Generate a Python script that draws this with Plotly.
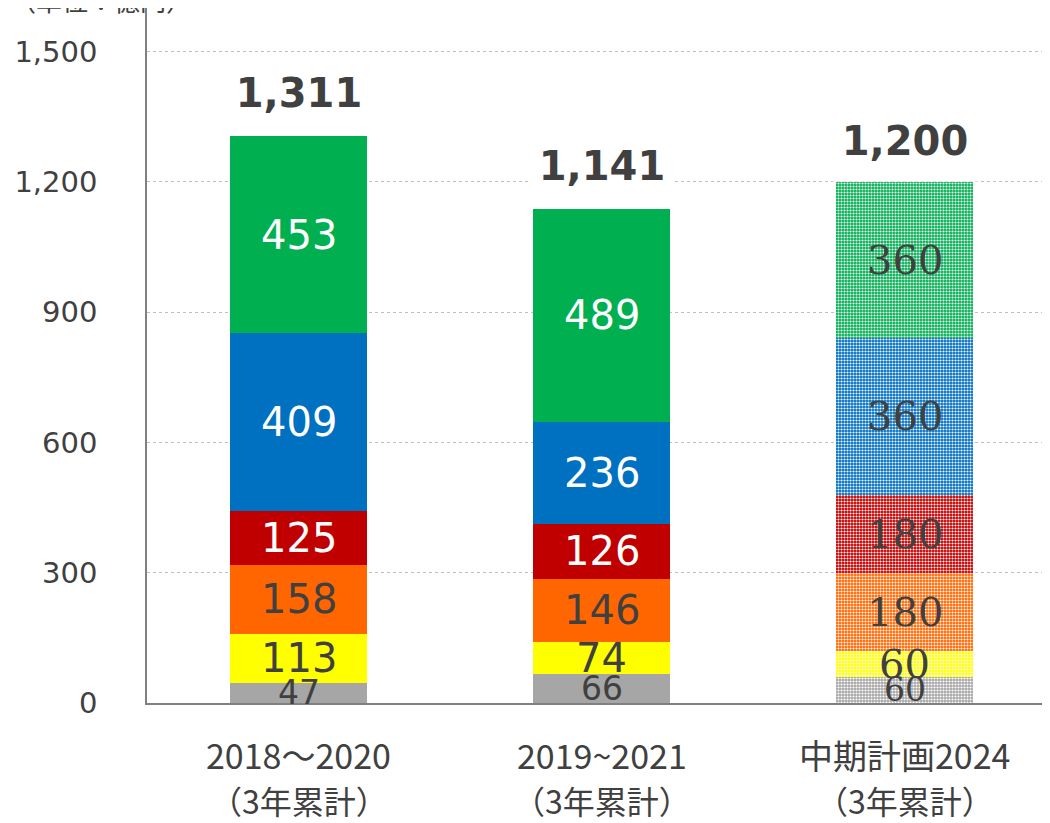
import plotly.graph_objects as go

categories = ["2018～2020", "2019~2021", "中期計画2024"]
sub_label = "（3年累計）"
series_names = ["その他", "A", "B", "C", "D", "E"]
series_colors = ["#A6A6A6", "#FFFF00", "#FF6600", "#C00000", "#0070C0", "#00B050"]
series_values = [
    [47, 66, 60],
    [113, 74, 60],
    [158, 146, 180],
    [125, 126, 180],
    [409, 236, 360],
    [453, 489, 360],
]
totals = [1311, 1141, 1200]
label_dark = [True, True, True, False, False, False]  # dark text on light fills
plan_index = 2

fig = go.Figure()
for name, color, vals in zip(series_names, series_colors, series_values):
    shapes = ["" if i != plan_index else "." for i in range(len(categories))]
    fig.add_trace(go.Bar(
        x=categories, y=vals, name=name, width=0.452,
        marker=dict(color=color, line=dict(width=0),
                    pattern=dict(shape=shapes, fgcolor="white", bgcolor=color,
                                 size=3, solidity=0.38, fillmode="replace")),
        showlegend=False, hoverinfo="skip",
    ))

annotations = []
for i, cat in enumerate(categories):
    base = 0
    for s, vals in enumerate(series_values):
        v = vals[i]
        mid = base + v / 2
        base += v
        if i == plan_index:
            col = "#404040"
            fam = "DejaVu Serif"
        else:
            col = "#404040" if label_dark[s] else "white"
            fam = "DejaVu Sans"
        size = 40 if s > 0 else 33
        annotations.append(dict(x=cat, y=mid, text=str(v), showarrow=False,
                                font=dict(size=size, color=col, family=fam),
                                xref="x", yref="y"))
    annotations.append(dict(x=cat, y=totals[i], text=f"<b>{totals[i]:,}</b>", showarrow=False,
                            yanchor="bottom", yshift=0, bgcolor="white",
                            borderpad=8, width=128, height=64,
                            font=dict(size=40, color="#404040", family="DejaVu Sans"),
                            xref="x", yref="y"))
    annotations.append(dict(x=cat, y=0, yref="paper", xref="x", text=cat, showarrow=False,
                            yanchor="middle", yshift=-51,
                            font=dict(size=34, color="#404040", family="Noto Sans CJK JP")))
    annotations.append(dict(x=cat, y=0, yref="paper", xref="x", text=sub_label, showarrow=False,
                            yanchor="middle", yshift=-97,
                            font=dict(size=32, color="#404040", family="Noto Sans CJK JP")))

annotations.append(dict(x=0, y=1, xref="paper", yref="paper", xanchor="left", yanchor="bottom",
                        xshift=-139, yshift=-12, text="（単位：億円）", showarrow=False,
                        font=dict(size=26, color="#404040", family="Noto Sans CJK JP")))

fig.update_layout(
    barmode="stack",
    width=1050, height=823,
    margin=dict(l=139, r=2, t=0, b=128),
    paper_bgcolor="white", plot_bgcolor="white",
    annotations=annotations,
    xaxis=dict(showticklabels=False, showline=True, linecolor="#808080", linewidth=1.5,
               ticks="", showgrid=False),
    yaxis=dict(range=[0, 1600], tickvals=[0, 300, 600, 900, 1200, 1500],
               ticktext=["0", "300", "600", "900", "1,200", "1,500"],
               showline=True, linecolor="#808080", linewidth=1.5,
               showgrid=True, gridcolor="#BFBFBF", griddash="dot", gridwidth=1,
               ticks="", ticklabelstandoff=42, zeroline=False,
               tickfont=dict(size=29, color="#404040", family="DejaVu Sans")),
)

fig.write_html("out.html")
